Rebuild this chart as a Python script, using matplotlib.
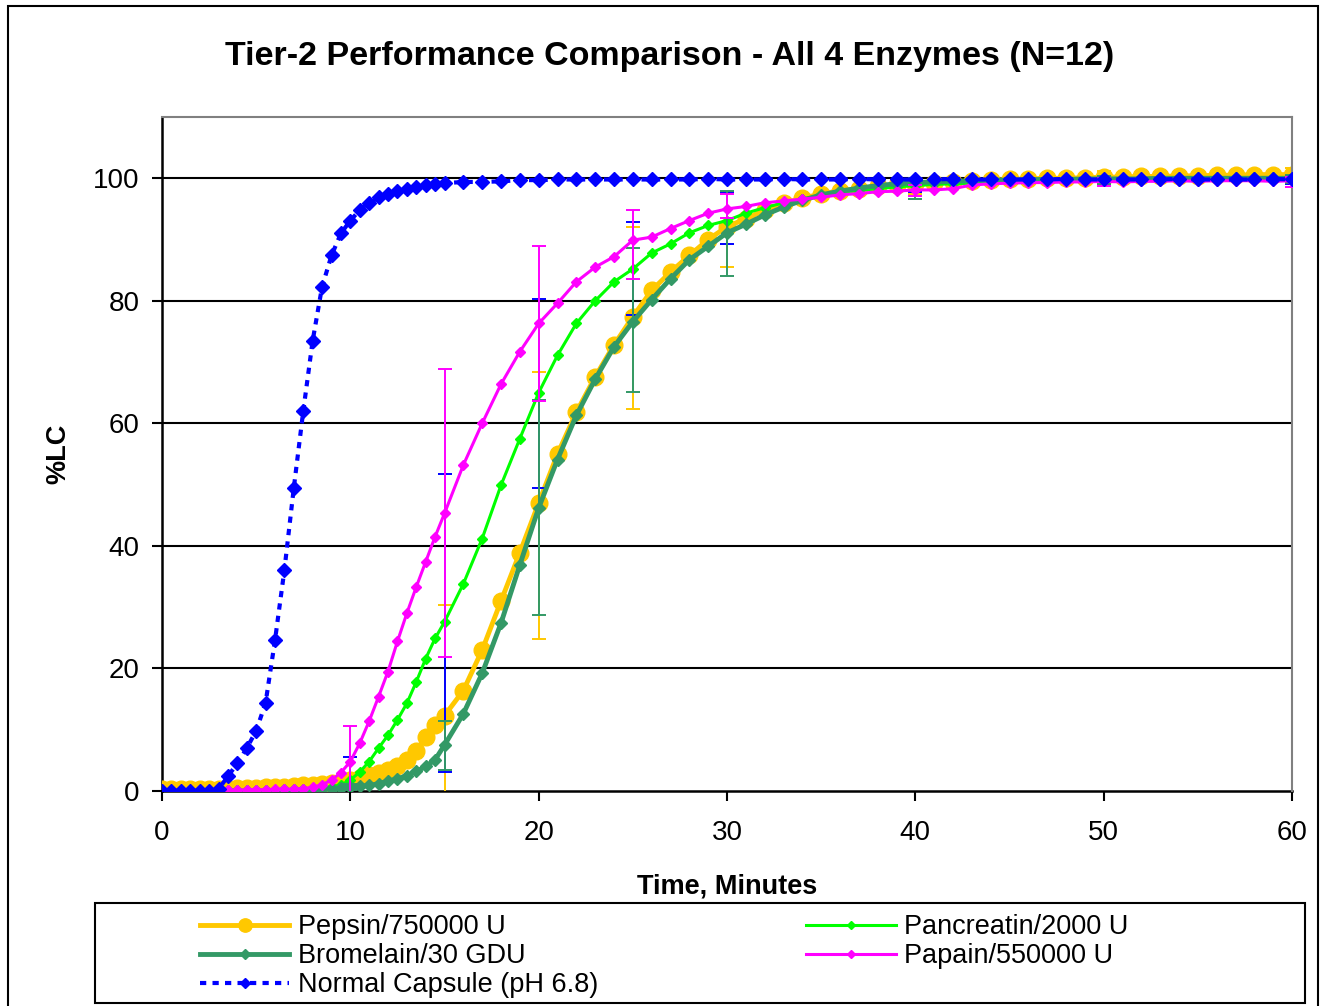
import numpy as np
import matplotlib
matplotlib.use("Agg")
import matplotlib.pyplot as plt
from matplotlib.patches import Rectangle

plt.rcParams['font.family'] = ['Liberation Sans', 'DejaVu Sans']

# time axis: half-minute readings to 15 min, then every minute
minutes = [0, 0.5, 1, 1.5, 2, 2.5, 3, 3.5, 4, 4.5, 5, 5.5, 6, 6.5, 7, 7.5,
           8, 8.5, 9, 9.5, 10, 10.5, 11, 11.5, 12, 12.5, 13, 13.5, 14, 14.5, 15,
           16, 17, 18, 19, 20, 21, 22, 23, 24, 25, 26, 27, 28, 29, 30,
           31, 32, 33, 34, 35, 36, 37, 38, 39, 40, 41, 42, 43, 44, 45,
           46, 47, 48, 49, 50, 51, 52, 53, 54, 55, 56, 57, 58, 59, 60]

pepsin = [0.3, 0.3, 0.3, 0.3, 0.3, 0.3, 0.4, 0.4, 0.5, 0.5, 0.5, 0.6, 0.6, 0.7, 0.8, 0.9,
          1.0, 1.1, 1.3, 1.5, 1.8, 2.1, 2.6, 2.9, 3.4, 4.0, 5.0, 6.5, 8.8, 10.8, 12.3,
          16.4, 23.0, 31.0, 38.9, 47.0, 55.0, 61.8, 67.6, 72.8, 77.4,
          81.7, 84.7, 87.4, 90.0, 92.1, 93.4, 94.8, 95.9, 96.8, 97.4,
          98.0, 98.3, 98.7, 98.9, 99.0, 99.2, 99.4, 99.6, 99.7, 99.8,
          99.9, 100.0, 100.0, 100.1, 100.2, 100.2, 100.3, 100.3, 100.4, 100.4,
          100.5, 100.5, 100.6, 100.6, 100.6]

pancreatin = [0, 0, 0, 0, 0, 0, 0, 0, 0, 0, 0, 0, 0, 0.1, 0.1, 0.2,
              0.3, 0.5, 0.7, 1.0, 1.8, 3.1, 4.8, 7.0, 9.1, 11.6, 14.3, 17.8, 21.6, 24.9, 27.6,
              33.8, 41.2, 49.9, 57.5, 65.0, 71.1, 76.3, 80.0, 83.1, 85.2,
              87.8, 89.3, 91.1, 92.3, 93.1, 94.3, 95.2, 96.0, 96.6, 97.2,
              97.7, 98.0, 98.3, 98.6, 98.8, 99.0, 99.1, 99.2, 99.3, 99.4,
              99.5, 99.5, 99.6, 99.6, 99.7, 99.7, 99.7, 99.8, 99.8, 99.8,
              99.8, 99.9, 99.9, 99.9, 99.9]

bromelain = [0, 0, 0, 0, 0, 0, 0, 0, 0, 0, 0, 0, 0, 0.1, 0.1, 0.2,
             0.2, 0.3, 0.4, 0.5, 0.6, 0.8, 0.9, 1.2, 1.6, 2.0, 2.5, 3.2, 4.0, 5.1, 7.5,
             12.6, 19.2, 27.4, 36.9, 46.2, 54.1, 61.3, 67.2, 72.5, 76.6,
             80.2, 83.6, 86.7, 88.9, 91.1, 92.5, 94.0, 95.3, 96.4, 97.3,
             97.9, 98.4, 98.8, 99.1, 99.3, 99.4, 99.5, 99.6, 99.7, 99.7,
             99.8, 99.8, 99.8, 99.9, 99.9, 99.9, 99.9, 100.0, 100.0, 100.0,
             100.0, 100.0, 100.0, 100.0, 100.0]

papain = [0, 0, 0, 0, 0, 0, 0, 0.1, 0.1, 0.2, 0.2, 0.2, 0.3, 0.3, 0.3, 0.4,
          0.6, 1.0, 1.8, 3.0, 4.8, 7.8, 11.4, 15.4, 19.5, 24.4, 29.0, 33.3, 37.4, 41.5, 45.3,
          53.2, 60.0, 66.4, 71.7, 76.3, 79.6, 83.1, 85.5, 87.2, 89.9,
          90.4, 91.8, 93.1, 94.3, 95.0, 95.4, 96.0, 96.3, 96.6, 96.9,
          97.3, 97.5, 97.8, 97.9, 98.1, 98.1, 98.3, 98.9, 99.1, 99.2,
          99.3, 99.3, 99.4, 99.4, 99.5, 99.4, 99.5, 99.5, 99.6, 99.5,
          99.6, 99.6, 99.6, 99.5, 99.6]

normal = [0, 0, 0, 0, 0, 0, 0.3, 2.4, 4.5, 7.0, 9.8, 14.4, 24.6, 36.1, 49.5, 62.0,
          73.5, 82.3, 87.4, 91.0, 93.1, 94.8, 95.9, 96.9, 97.5, 97.9, 98.3, 98.5, 98.9, 99.1, 99.2,
          99.4, 99.4, 99.5, 99.7, 99.7, 99.8, 99.8, 99.8, 99.8, 99.8,
          99.8, 99.8, 99.8, 99.9, 99.8, 99.8, 99.8, 99.9, 99.8, 99.8,
          99.8, 99.9, 99.8, 99.8, 99.8, 99.8, 99.9, 99.8, 99.8, 99.8,
          99.8, 99.8, 99.9, 99.8, 99.8, 99.8, 99.8, 99.8, 99.9, 99.8,
          99.8, 99.8, 99.8, 99.9, 99.8]

# error bars (lower, upper) at these times
err_times = [10, 15, 20, 25, 30, 40, 50, 60]
pepsin_lo = [1.0, 14.0, 22.2, 15.0, 6.6, 1.5, 1.0, 1.0]
pepsin_hi = [1.0, 18.0, 21.4, 14.7, 5.5, 1.0, 1.0, 1.0]
pancreatin_lo = [3.8, 24.5, 15.6, 7.5, 3.9, 1.0, 0.8, 0.8]
pancreatin_hi = [3.8, 24.2, 15.3, 7.7, 4.6, 0.5, 0.5, 0.5]
bromelain_lo = [0.5, 4.0, 17.4, 11.5, 7.1, 2.7, 0.8, 0.8]
bromelain_hi = [0.5, 4.0, 17.6, 12.0, 6.9, 0.8, 0.5, 0.5]
papain_lo = [5.8, 23.5, 12.6, 6.4, 1.5, 1.0, 0.8, 1.0]
papain_hi = [5.8, 23.5, 12.6, 5.0, 2.5, 0.8, 0.6, 0.6]

W, H = 1322, 1006
fig = plt.figure(figsize=(W / 100, H / 100), dpi=100)
ax = fig.add_axes([162 / W, 1 - 791 / H, (1292 - 162) / W, (791 - 117) / H])

t = np.array(minutes)
idx = [minutes.index(m) for m in err_times]

def draw(y, color, marker, ms, lw, lo, hi, ecolor, ls='-', z=2):
    y = np.array(y)
    line, = ax.plot(t, y, color=color, lw=lw, ls=ls, marker=marker, ms=ms,
                    mec=color, mfc=color, zorder=z)
    if lo is not None:
        ax.errorbar(t[idx], y[idx], yerr=[lo, hi], fmt='none', ecolor=ecolor,
                    elinewidth=1.4, capsize=5, capthick=1.4, zorder=z)
    return line

h_pep = draw(pepsin, '#FFC800', 'o', 12, 3.5, pepsin_lo, pepsin_hi, '#FFC800', z=2)
h_pan = draw(pancreatin, '#00FF00', 'D', 5.5, 2.2, pancreatin_lo, pancreatin_hi, '#0000FF', z=3)
h_bro = draw(bromelain, '#339966', 'D', 6.5, 3.5, bromelain_lo, bromelain_hi, '#339966', z=4)
h_pap = draw(papain, '#FF00FF', 'D', 5.5, 2.2, papain_lo, papain_hi, '#FF00FF', z=5)
h_nor = draw(normal, '#0000FF', 'D', 7, 3, None, None, None, ls=(0, (1.5, 1.5)), z=6)

ax.set_xlim(0, 60)
ax.set_ylim(0, 110)
ax.set_xticks([0, 10, 20, 30, 40, 50, 60])
ax.set_yticks([0, 20, 40, 60, 80, 100])
ax.tick_params(labelsize=20, direction='out', length=7, width=1.5, colors='black')
ax.tick_params(axis='x', pad=14)
ax.tick_params(axis='y', pad=9)
for y in [20, 40, 60, 80, 100]:
    ax.axhline(y, color='black', lw=1.5, zorder=1)
for s in ['left', 'bottom']:
    ax.spines[s].set_linewidth(1.8)
    ax.spines[s].set_zorder(1)
for s in ['top', 'right']:
    ax.spines[s].set_color('#808080')
    ax.spines[s].set_linewidth(1.5)

fig.text(670 / W, 1 - 57 / H, 'Tier-2 Performance Comparison - All 4 Enzymes (N=12)',
         ha='center', va='center', fontsize=24.5, fontweight='bold')
fig.text(727 / W, 1 - 886 / H, 'Time, Minutes', ha='center', va='center',
         fontsize=19.5, fontweight='bold')
fig.text(58 / W, 1 - 454 / H, '%LC', ha='center', va='center', rotation=90,
         fontsize=19.5, fontweight='bold')

# outer chart border and legend box
fig.add_artist(Rectangle((8 / W, -0.01), (1318 - 8) / W, 1 - 6 / H + 0.01,
                         transform=fig.transFigure, fill=False, ec='black', lw=1.5))
fig.add_artist(Rectangle((95 / W, 1 - 1003 / H), (1305 - 95) / W, 100 / H,
                         transform=fig.transFigure, fill=False, ec='black', lw=1.5))

handles = [h_pep, h_bro, h_nor, h_pan, h_pap]
labels = ['Pepsin/750000 U', 'Bromelain/30 GDU', 'Normal Capsule (pH 6.8)',
          'Pancreatin/2000 U', 'Papain/550000 U']
fig.legend(handles, labels, ncol=2, frameon=False, loc='upper left',
           bbox_to_anchor=(200 / W, 1 - 914 / H), borderpad=0, borderaxespad=0,
           fontsize=19.5, handlelength=3.3, handletextpad=0.3, columnspacing=7.7,
           labelspacing=0.12, markerscale=0.8)

fig.savefig('out.png', dpi=100)
